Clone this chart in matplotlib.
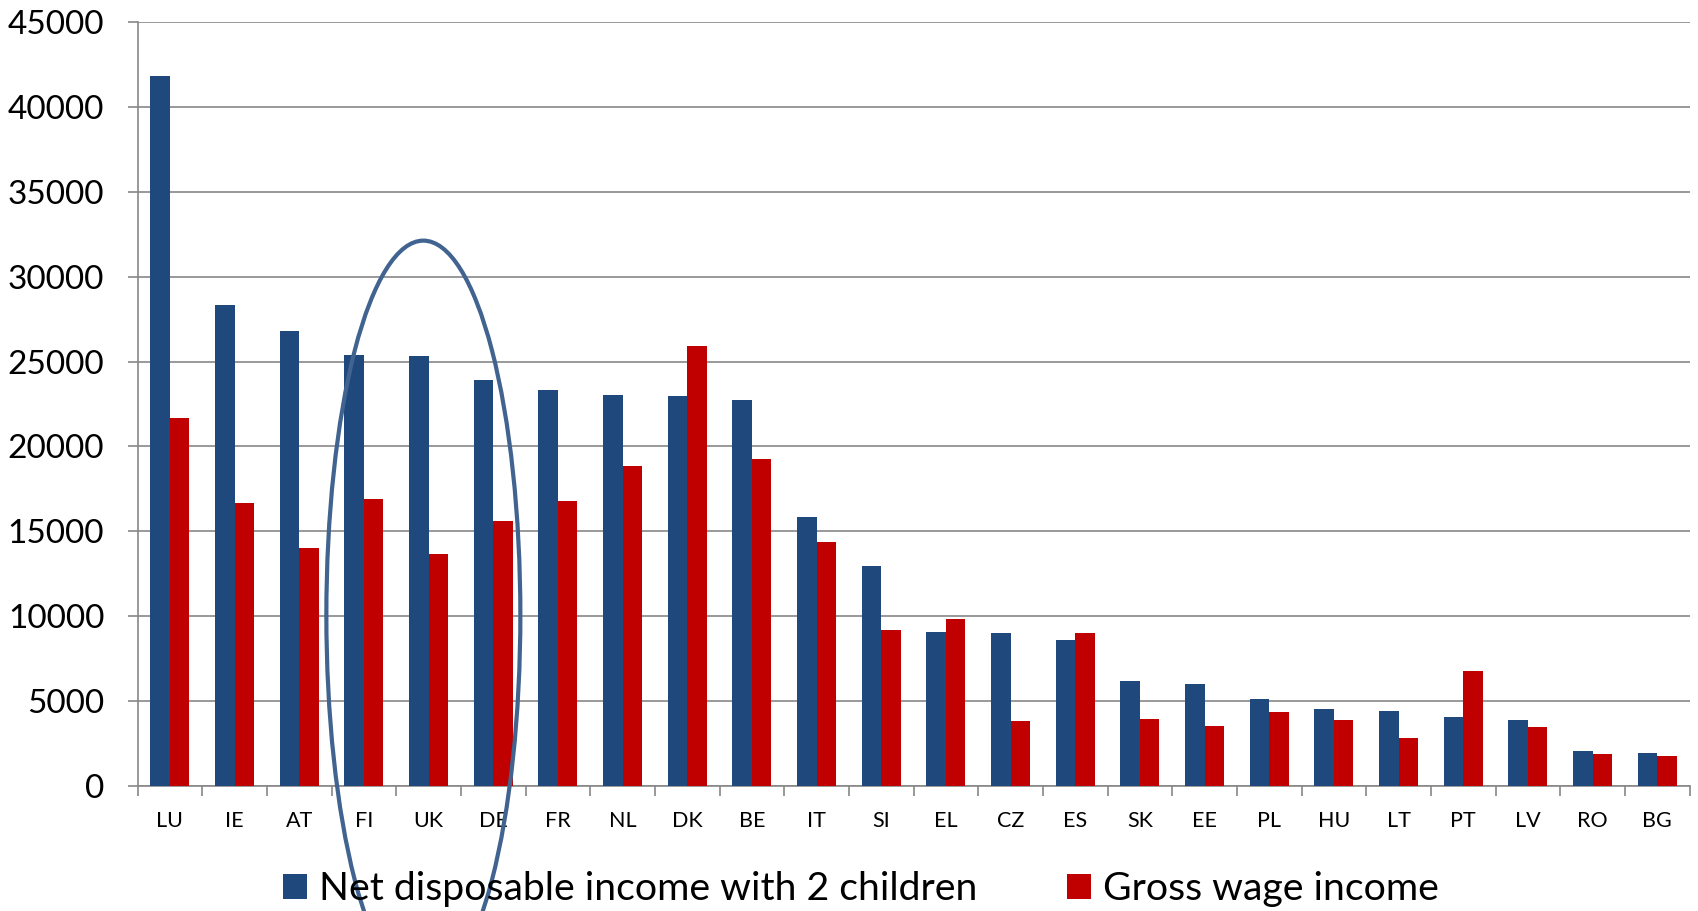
import matplotlib
matplotlib.use("Agg")
import matplotlib.pyplot as plt
from matplotlib.patches import Ellipse, Patch
import numpy as np

countries = ["LU", "IE", "AT", "FI", "UK", "DE", "FR", "NL", "DK", "BE", "IT", "SI",
             "EL", "CZ", "ES", "SK", "EE", "PL", "HU", "LT", "PT", "LV", "RO", "BG"]
net_income = [41800, 28350, 26800, 25400, 25300, 23900, 23350, 23050, 22950, 22750, 15870, 12960,
              9050, 9030, 8620, 6190, 6000, 5130, 4540, 4420, 4090, 3900, 2100, 1980]
gross_wage = [21650, 16660, 14000, 16900, 13680, 15620, 16810, 18850, 25920, 19280, 14390, 9190,
              9820, 3850, 9010, 3950, 3520, 4340, 3890, 2810, 6790, 3460, 1920, 1790]
series_names = ["Net disposable income with 2 children", "Gross wage income"]
yticks = [0, 5000, 10000, 15000, 20000, 25000, 30000, 35000, 40000, 45000]

BLUE = "#1F497D"
RED = "#C00000"
GRID = "#878787"
FONT = "Lato"

fig = plt.figure(figsize=(16.98, 9.11), dpi=100)
ax = fig.add_axes([0.081, 0.137, 0.914, 0.839])

x = np.arange(len(countries))
w = 0.3
ax.bar(x - w / 2, net_income, width=w, color=BLUE, zorder=3)
ax.bar(x + w / 2, gross_wage, width=w, color=RED, zorder=3)

ax.set_xlim(-0.5, len(countries) - 0.5)
ax.set_ylim(0, 45000)
ax.set_yticks(yticks)
ax.set_yticklabels([str(v) for v in yticks], fontsize=24, family=FONT)
ax.yaxis.grid(True, color=GRID, linewidth=1.2, zorder=0)
ax.set_axisbelow(True)

ax.set_xticks(x)
ax.set_xticklabels(countries, fontsize=15.5, family=FONT)
ax.set_xticks(np.arange(-0.5, len(countries)), minor=True)
ax.tick_params(axis="x", which="major", length=0, pad=18)
ax.tick_params(axis="x", which="minor", length=7, width=1.2, color=GRID, direction="out")
ax.tick_params(axis="y", length=7, width=1.2, color=GRID, pad=17)

for s in ["top", "right"]:
    ax.spines[s].set_visible(False)
for s in ["left", "bottom"]:
    ax.spines[s].set_color(GRID)
    ax.spines[s].set_linewidth(1.2)

# highlight ellipse around FI / UK / DE
ell = Ellipse((3.92, 10070), width=3.0, height=44100, fill=False,
              edgecolor="#41638F", linewidth=3.0, clip_on=False, zorder=5)
ax.add_patch(ell)

handles = [Patch(facecolor=BLUE), Patch(facecolor=RED)]
fig.legend(handles, series_names, loc="center", bbox_to_anchor=(0.507, 0.024),
           ncol=2, frameon=False, prop={"family": FONT, "size": 28.3},
           handlelength=0.6, handleheight=0.6, handletextpad=0.3, columnspacing=2.3)

fig.savefig("out.png", dpi=100)
